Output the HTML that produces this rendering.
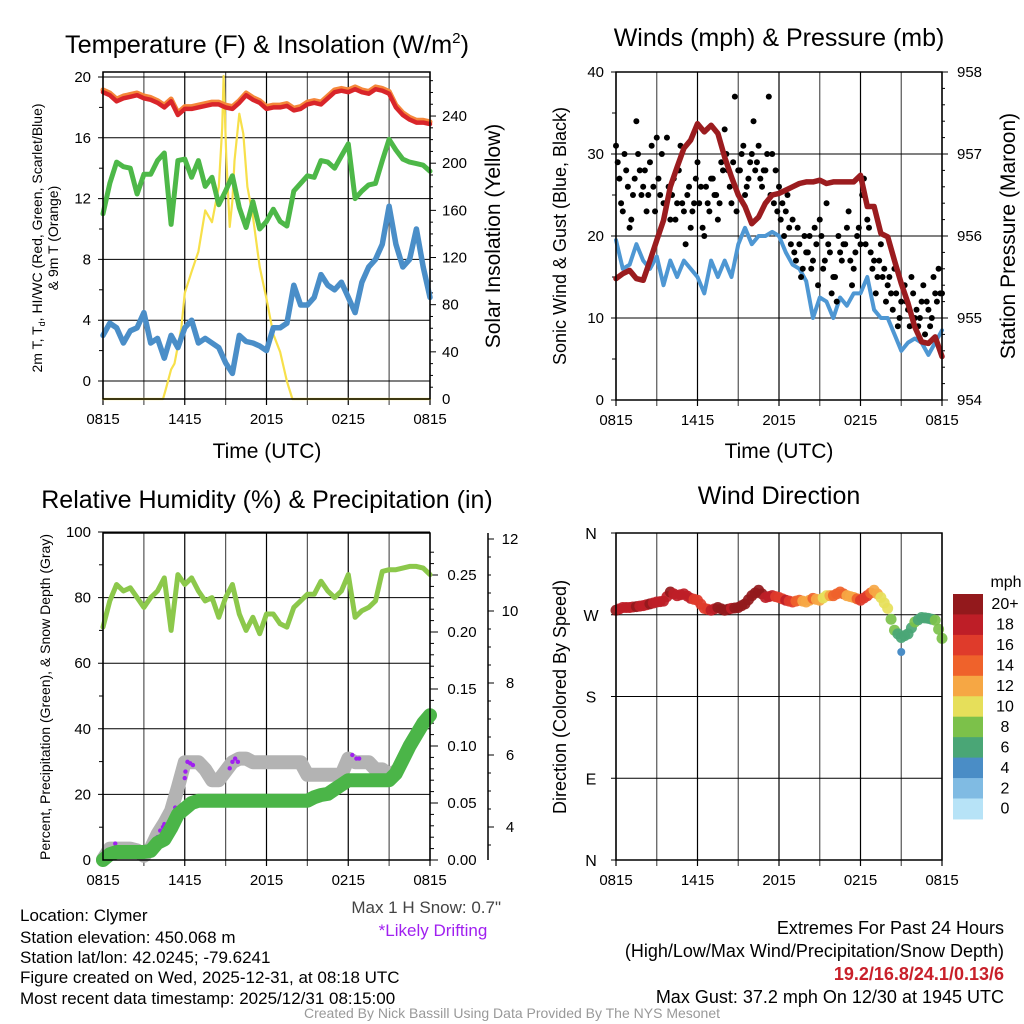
<!DOCTYPE html>
<html><head><meta charset="utf-8"><title>Clymer Meteogram</title>
<style>
html,body{margin:0;padding:0;background:#fff;}
svg{display:block;font-family:"Liberation Sans",Arial,sans-serif;}
</style></head>
<body>
<svg id="fig" width="1024" height="1024" viewBox="0 0 1024 1024" xmlns="http://www.w3.org/2000/svg">
<rect width="1024" height="1024" fill="#fff"/>
<g id="p1"></g>
<g id="p2"></g>
<g id="p3"></g>
<g id="p4"></g>

<text x="267" y="53" font-size="25" text-anchor="middle" textLength="404" lengthAdjust="spacingAndGlyphs">Temperature (F) &amp; Insolation (W/m<tspan font-size="15" dy="-10">2</tspan><tspan dy="10">)</tspan></text>
<text x="779" y="46" font-size="25" text-anchor="middle">Winds (mph) &amp; Pressure (mb)</text>
<text x="267" y="508" font-size="25" text-anchor="middle">Relative Humidity (%) &amp; Precipitation (in)</text>
<text x="779" y="504" font-size="25" text-anchor="middle">Wind Direction</text>

<text x="267" y="458" font-size="21" text-anchor="middle">Time (UTC)</text>
<text x="779" y="458" font-size="21" text-anchor="middle">Time (UTC)</text>

<text transform="translate(42,238) rotate(-90)" font-size="14" text-anchor="middle">2m T, T<tspan font-size="9" dy="3">d</tspan><tspan dy="-3">, HI/WC (Red, Green, Scarlet/Blue)</tspan></text>
<text transform="translate(58,238) rotate(-90)" font-size="14" text-anchor="middle">&amp; 9m T (Orange)</text>
<text transform="translate(500,236) rotate(-90)" font-size="21" text-anchor="middle">Solar Insolation (Yellow)</text>
<text transform="translate(566,236) rotate(-90)" font-size="18" text-anchor="middle">Sonic Wind &amp; Gust (Blue, Black)</text>
<text transform="translate(1015,236) rotate(-90)" font-size="21" text-anchor="middle">Station Pressure (Maroon)</text>
<text transform="translate(50,697) rotate(-90)" font-size="14" text-anchor="middle">Percent, Precipitation (Green), &amp; Snow Depth (Gray)</text>
<text transform="translate(566,697) rotate(-90)" font-size="18" text-anchor="middle">Direction (Colored By Speed)</text>

<g font-size="17">
<text x="20" y="921">Location: Clymer</text>
<text x="20" y="943">Station elevation: 450.068 m</text>
<text x="20" y="963">Station lat/lon: 42.0245; -79.6241</text>
<text x="20" y="983">Figure created on Wed, 2025-12-31, at 08:18 UTC</text>
<text x="20" y="1004">Most recent data timestamp: 2025/12/31 08:15:00</text>
</g>
<text x="501" y="913" font-size="17" fill="#444" text-anchor="end">Max 1 H Snow: 0.7"</text>
<text x="433" y="936" font-size="17" fill="#a020f0" text-anchor="middle">*Likely Drifting</text>
<g font-size="18" text-anchor="end">
<text x="1004" y="934">Extremes For Past 24 Hours</text>
<text x="1004" y="957">(High/Low/Max Wind/Precipitation/Snow Depth)</text>
<text x="1004" y="980" fill="#c8202a" font-weight="bold">19.2/16.8/24.1/0.13/6</text>
<text x="1004" y="1003">Max Gust: 37.2 mph On 12/30 at 1945 UTC</text>
</g>
<text x="512" y="1018" font-size="14" fill="#999" text-anchor="middle">Created By Nick Bassill Using Data Provided By The NYS Mesonet</text>
</svg>
<script>
// ---- data (half-hour samples from 0815 UTC over 24 h) ----
const timeTicks = ["0815","1415","2015","0215","0815"];
const tempRed = [19.0,18.8,18.4,18.6,18.7,18.8,18.6,18.5,18.3,18.0,18.4,17.5,17.9,17.9,18.0,18.1,18.2,18.2,18.0,17.9,18.3,18.8,18.5,18.3,17.9,18.0,18.0,18.1,17.8,17.9,18.2,18.3,18.2,18.6,19.0,19.1,19.0,19.2,19.0,18.9,19.2,19.1,18.9,18.0,17.5,17.2,17.0,17.0,16.9];
const temp9m = [19.15,18.95,18.55,18.75,18.85,18.95,18.75,18.65,18.45,18.15,18.55,17.65,18.05,18.05,18.15,18.25,18.35,18.35,18.15,18.05,18.45,18.95,18.65,18.45,18.05,18.15,18.15,18.25,17.95,18.05,18.35,18.45,18.35,18.75,19.15,19.25,19.15,19.35,19.15,19.05,19.35,19.25,19.05,18.15,17.65,17.35,17.15,17.15,17.05];
const dewGreen = [11.0,13.0,14.4,14.1,14.0,12.3,13.6,13.6,14.5,15.0,10.3,14.5,14.6,13.4,14.5,12.8,13.4,11.6,12.5,13.5,11.4,10.1,11.8,10.0,10.5,11.3,10.5,10.2,12.5,13.0,13.5,13.4,14.5,14.4,14.0,14.8,15.6,12.0,12.5,12.9,13.0,14.5,15.9,15.2,14.6,14.4,14.3,14.2,13.8];
const windChill = [3.0,3.8,3.5,2.5,3.3,3.5,4.5,2.5,2.8,1.5,3.0,2.2,3.5,4.0,2.5,2.8,2.5,2.2,1.2,0.5,3.0,2.6,2.5,2.3,2.0,3.5,3.5,3.8,6.3,5.0,5.0,5.5,7.0,6.3,6.0,6.5,5.5,4.5,6.5,7.5,8.0,9.0,11.5,9.0,7.5,8.0,10.0,7.5,5.5];
const solarHours = [0,4.4,4.6,5,5.25,5.5,5.75,6,6.5,7,7.5,8,8.5,8.75,8.85,9.05,9.3,9.5,9.65,10,10.3,10.6,11,11.5,12,12.5,13,13.5,13.9,24];
const solarVals = [0,0,8,25,30,45,60,90,108,125,160,150,180,230,274,205,146,168,202,242,225,180,155,112,85,55,40,15,0,0];
const tempTicks = [0,4,8,12,16,20];
const solarTicks = [0,40,80,120,160,200,240];

const windSpeed = [19.5,16,16.5,19,17,16,17.5,14,17,15,17,16,15,13,17,15,17,15,19,21,19,20,20,20.5,20,18,16.5,16,14.5,10,12.5,12,10,12.5,11.5,13,13,15,11,10,10,8,6,7,7.5,7,5.5,7,8.5];
const gustQuarter = [31,27,23,28,21,25,34,28,26, 23,29,26,32,25,24,32,22, 27,24,31,23,25,21,24,29, 26,20,24,27,25,22,29,33, 28,24,37,28,30,25,27,30, 28,31,26,28,37,30,28,26, 24,23,21,22,17,19,16,18, 20,17,19,22,16,24,18,15, 12,18,19,21,17,16,20,19, 27,22,18,17,15,19,16,14, 13,16,9,12,14,11,15,10, 9,12,8,11,10,13,16,13];
const gustOffset = [29,24,30,26,22,27,30,25, 28,25,31,23,27,30,24,26, 25,22,28,24,19,26,23,27, 24,21,26,23,27,25,24,28, 30,26,29,23,28,31,26,29, 34,29,27,28,30,25,24,23, 22,20,25,19,18,21,15,20, 18,16,21,14,20,17,19,13, 15,20,17,19,23,14,18,21, 25,19,21,16,13,17,15,12, 15,11,13,10,14,12,9,13, 11,10,14,12,9,15,12,13];
const pressure = [955.48,955.54,955.58,955.48,955.46,955.7,955.95,956.19,956.6,956.84,957.07,957.17,957.37,957.27,957.35,957.25,956.96,956.72,956.5,956.36,956.15,956.23,956.4,956.5,956.52,956.56,956.6,956.64,956.66,956.66,956.68,956.64,956.66,956.66,956.66,956.66,956.74,956.36,956.36,956.03,955.99,955.7,955.42,955.18,954.89,954.71,954.69,954.77,954.53];
const windTicks = [0,10,20,30,40];
const pressTicks = [954,955,956,957,958];

const rhVals = [71,79,84,82,83,80,77,80,82,86,70,87,84,86,82,79,80,74,80,84,75,70,74,69,75,75,72,71,77,79,81,81,85,82,80,82,87,74,76,77,79,88,88.5,88.5,89,89.5,89.5,89,87];
const precipVals = [0,0.005,0.007,0.007,0.007,0.007,0.007,0.008,0.015,0.018,0.028,0.04,0.045,0.05,0.052,0.052,0.052,0.052,0.052,0.052,0.052,0.052,0.052,0.052,0.052,0.052,0.052,0.052,0.052,0.052,0.052,0.055,0.057,0.058,0.062,0.066,0.070,0.070,0.070,0.070,0.070,0.070,0.070,0.076,0.088,0.1,0.11,0.12,0.127];
const snowDepth = [3.1,3.4,3.4,3.4,3.4,3.35,3.2,3.4,3.8,4.1,4.45,5.1,5.8,5.8,5.8,5.6,5.3,5.3,5.55,5.8,5.9,5.9,5.8,5.8,5.8,5.8,5.8,5.8,5.8,5.8,5.45,5.45,5.45,5.45,5.45,5.45,5.9,5.8,5.8,5.8,5.6,5.6,5.45,5.55];
const driftHours = [0.9,4.0,4.2,4.4,4.5,5.3,6.0,6.05,6.2,6.4,6.6,9.3,9.5,9.7,9.9,18.3,18.6,18.8];
const driftSnow = [3.54,3.72,3.9,4.0,4.08,4.54,5.36,5.54,5.81,5.77,5.72,5.63,5.81,5.9,5.81,6.0,5.9,5.9];
const rhTicks = [0,20,40,60,80,100];
const precipTicks = [0,0.05,0.1,0.15,0.2,0.25];
const snowTicks = [4,6,8,10,12];

const dirVals = [275,278,278,279,280,282,284,285,295,291,293,288,286,277,275,278,275,277,278,282,291,297,289,291,289,286,284,286,284,288,286,291,291,295,291,289,286,291,297,289,277,253,245,249,262,267,266,264,244];
const dirSpeed = [19,18,17,19,18,19,18,17,19, 18,17,17,16,15,18,19,20,18, 21,20,21,20,18,17,16,17,15, 14,11,13,12,9,13,14,12,12, 15,16,12,10,9,8,5,6,7, 6,5,8,8];
const dirOutlierHour = [21.0];
const dirOutlierVal = [229];
const dirOutlierSpeed = [4];
const dirLabels = ["N","E","S","W","N"];
const speedBinLabels = ["0","2","4","6","8","10","12","14","16","18","20+"];
const speedBinColors = ["#b7e3f7","#80bbe3","#4a8dc6","#4aa676","#7cc14a","#e6df5a","#f6a744","#ef622b","#df3b2b","#be1e27","#93191c"];

// ---- helpers ----
const NS = "http://www.w3.org/2000/svg";
function mk(parent, tag, attrs){ const e=document.createElementNS(NS,tag); for(const k in attrs) e.setAttribute(k,attrs[k]); parent.appendChild(e); return e; }
function txt(parent, x, y, s, size, anchor){ const t=mk(parent,"text",{x:x,y:y,"font-size":size,"text-anchor":anchor||"middle"}); t.textContent=s; return t; }
function pathFrom(xs, ys){ return xs.map((x,i)=>(i?"L":"M")+x.toFixed(1)+","+ys[i].toFixed(1)).join(""); }

function frame(g, L, R, T, B, name){
  const hr = h => L + h*(R-L)/24;
  for(let h=0; h<=24; h+=3){
    const gl = mk(g,"line",{x1:hr(h),x2:hr(h),y1:T,y2:B+6,stroke:(h%6===0?"#000":"#555"),"stroke-width":1.2});
    
    
  }
  timeTicks.forEach((s,i)=>{
    const t = txt(g, hr(i*6), B+25, s, 15);
    
    
  });
  return hr;
}
function hgrid(g, L, R, y, name){
  const l = mk(g,"line",{x1:L-5,x2:R,y1:y,y2:y,stroke:"#000","stroke-width":1});
  
  
}
function box(g,L,R,T,B,name){
  const r = mk(g,"rect",{x:L,y:T,width:R-L,height:B-T,fill:"none",stroke:"#000","stroke-width":1.5});
  
  
}
function series(g, xs, ys, color, w, name){
  const p = mk(g,"path",{d:pathFrom(xs,ys),fill:"none",stroke:color,"stroke-width":w,"stroke-linejoin":"round","stroke-linecap":"round"});
  
  
  return p;
}

// ---- panel 1 ----
(function(){
  const g=document.getElementById("p1");
  const L=103,R=430,T=72,B=399;
  const hr=frame(g,L,R,T,B,"temp");
  const yT = v => 381 - v*15.2;
  const yS = v => 399 - v*1.179;
  tempTicks.forEach(v=>{ hgrid(g,L,R,yT(v),'temp-hgrid'); const t=txt(g,L-12,yT(v)+5,String(v),15,"end");   });
  for(let v=2; v<20; v+=4){ mk(g,"line",{x1:L-4,x2:L,y1:yT(v),y2:yT(v),stroke:"#000"}); }
  for(let v=10; v<=270; v+=10){ mk(g,"line",{x1:R,x2:R+(v%40===0?6:3),y1:yS(v),y2:yS(v),stroke:"#000"}); }
  solarTicks.forEach(v=>{ const t=txt(g,R+12,yS(v)+5,String(v),15,"start");   });
  const hx = tempRed.map((_,i)=>hr(i*0.5));
  series(g, solarHours.map(hr), solarVals.map(yS), "#f7e04a", 2.2, "solar-insolation-line");
  series(g, hx, windChill.map(yT), "#4a8ec8", 5.5, "wind-chill-line");
  series(g, hx, dewGreen.map(yT), "#4db848", 5, "dewpoint-line");
  series(g, hx, temp9m.map(yT), "#f5873a", 5, "temp-9m-line");
  series(g, hx, tempRed.map(yT), "#d9252a", 4.5, "temp-2m-line");
  box(g,L,R,T,B,"temp-plot-frame");
})();

// ---- panel 2 ----
(function(){
  const g=document.getElementById("p2");
  const L=616,R=942,T=72,B=400;
  const hr=frame(g,L,R,T,B,"wind");
  const yW = v => 400 - v*8.2;
  const yP = v => 400 - (v-954)*82;
  windTicks.forEach(v=>{ hgrid(g,L,R,yW(v),'wind-hgrid'); const t=txt(g,L-12,yW(v)+5,String(v),15,"end");   });
  for(let v=5; v<40; v+=10){ mk(g,"line",{x1:L-4,x2:L,y1:yW(v),y2:yW(v),stroke:"#000"}); }
  for(let v=954; v<=958.001; v+=0.2){ mk(g,"line",{x1:R,x2:R+(Math.abs(v-Math.round(v))<0.01?6:3),y1:yP(v),y2:yP(v),stroke:"#000"}); }
  pressTicks.forEach(v=>{ const t=txt(g,R+15,yP(v)+5,String(v),15,"start");   });
  const hx = windSpeed.map((_,i)=>hr(i*0.5));
  series(g, hx, windSpeed.map(yW), "#4e97d3", 4, "sonic-wind-line");
  gustQuarter.forEach((v,i)=>{
    const c=mk(g,"circle",{cx:hr(i*0.25),cy:yW(v),r:3,fill:"#000"});
    
    
  });
  gustOffset.forEach((v,i)=>{
    const c=mk(g,"circle",{cx:hr(i*0.25+0.125),cy:yW(v),r:3,fill:"#000"});
    
    
  });
  series(g, hx, pressure.map(yP), "#9b1c1f", 5.5, "pressure-line");
  box(g,L,R,T,B,"wind-plot-frame");
})();

// ---- panel 3 ----
(function(){
  const g=document.getElementById("p3");
  const L=103,R=430,T=533,B=860;
  const hr=frame(g,L,R,T,B,"rh");
  const yR = v => 860 - v*3.28;
  const yPr = v => 860 - v*1140;
  const ySn = v => 827 - (v-4)*36;
  rhTicks.forEach(v=>{ hgrid(g,L,R,yR(v),'rh-hgrid'); const t=txt(g,L-12,yR(v)+5,String(v),15,"end");   });
  for(let v=10; v<100; v+=20){ mk(g,"line",{x1:L-4,x2:L,y1:yR(v),y2:yR(v),stroke:"#000"}); }
  for(let v=0; v<=0.2751; v+=0.01){ mk(g,"line",{x1:R,x2:R+(Math.round(v*100)%5===0?8:4),y1:yPr(v),y2:yPr(v),stroke:"#000"}); }
  precipTicks.forEach(v=>{ const t=txt(g,R+32,yPr(v)+5,v.toFixed(2),15,"middle");   });
  const ax = mk(g,"line",{x1:488,x2:488,y1:533,y2:860,stroke:"#000","stroke-width":1.5});
  
  
  for(let v=3.5; v<=12.5; v+=0.5){ if(ySn(v)>=533 && ySn(v)<=860) mk(g,"line",{x1:488,x2:488+(v%2===0?6:3),y1:ySn(v),y2:ySn(v),stroke:"#000"}); }
  snowTicks.forEach(v=>{ const t=txt(g,510,ySn(v)+5,String(v),15,"middle");   });
  series(g, snowDepth.map((_,i)=>hr(i*0.5)), snowDepth.map(ySn), "#b3b3b3", 14, "snow-depth-line");
  driftHours.forEach((h,i)=>{
    const c=mk(g,"circle",{cx:hr(h),cy:ySn(driftSnow[i]),r:2.2,fill:"#a020f0"});
    
    
  });
  series(g, precipVals.map((_,i)=>hr(i*0.5)), precipVals.map(yPr), "#4bb548", 14, "precipitation-line");
  series(g, rhVals.map((_,i)=>hr(i*0.5)), rhVals.map(yR), "#8cc84b", 5, "relative-humidity-line");
  box(g,L,R,T,B,"rh-plot-frame");
})();

// ---- panel 4 ----
(function(){
  const g=document.getElementById("p4");
  const L=616,R=942,T=533,B=860;
  const hr=frame(g,L,R,T,B,"dir");
  const yD = v => 860 - v*327/360;
  dirLabels.forEach((s,i)=>{ hgrid(g,L,R,yD(i*90),'dir-hgrid'); const t=txt(g,L-25,yD(i*90)+6,s,16,"middle");   });
  const colorFor = s => speedBinColors[Math.max(0,Math.min(10,Math.round(s/2)))];
  dirVals.forEach((v,i)=>{
    const c=mk(g,"circle",{cx:hr(i*0.5),cy:yD(v),r:5.5,fill:colorFor(dirSpeed[i]),"fill-opacity":0.92});
    
    
    if(i<dirVals.length-1){
      const c2=mk(g,"circle",{cx:hr(i*0.5+0.25),cy:yD((v+dirVals[i+1])/2),r:5.5,fill:colorFor((dirSpeed[i]+dirSpeed[i+1])/2),"fill-opacity":0.92});
      
      
    }
  });
  dirOutlierHour.forEach((h,i)=>{
    const c=mk(g,"circle",{cx:hr(h),cy:yD(dirOutlierVal[i]),r:4,fill:colorFor(dirOutlierSpeed[i])});
    
    
  });
  box(g,L,R,T,B,"dir-plot-frame");
  const cb = mk(g,"g",{});
  
  
  const top=594, h=20.45;
  speedBinColors.slice().reverse().forEach((c,i)=>{
    const r=mk(cb,"rect",{x:953,y:top+i*h,width:30,height:h+0.5,fill:c});
    
    
  });
  speedBinLabels.slice().reverse().forEach((s,i)=>{
    const t=txt(cb,1005,top+i*h+h/2+5,s,16,"middle");
    
    
  });
  const u=txt(cb,1006,587,"mph",16,"middle");
  
  
})();
</script>
</body></html>
